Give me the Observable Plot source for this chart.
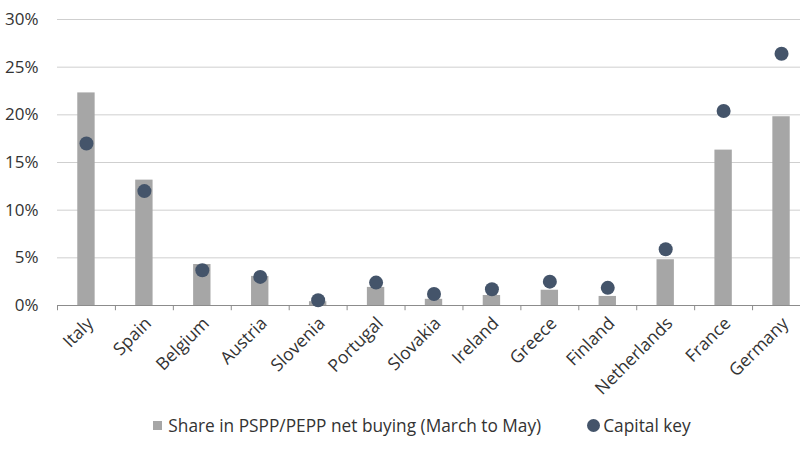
<!DOCTYPE html>
<html>
<head>
<meta charset="utf-8">
<script src="https://cdn.jsdelivr.net/npm/d3@7"></script>
<script src="https://cdn.jsdelivr.net/npm/@observablehq/plot@0.6"></script>
<style>
  html, body { margin: 0; padding: 0; background: #fff; }
  body { width: 800px; height: 450px; overflow: hidden; font-family: "Open Sans", sans-serif; }
  #chart svg { display: block; overflow: visible; }
  #legend { display: flex; justify-content: center; align-items: center; height: 45px; font-size: 17.3px; color: #333; margin-top: -2px; padding-left: 44px; }
  .item { display: flex; align-items: center; }
  .sq { width: 9px; height: 9px; background: #a6a6a6; margin-right: 6px; }
  .dt { width: 13px; height: 13px; border-radius: 50%; background: #44546a; margin-right: 3px; }
</style>
</head>
<body>
<div id="chart"></div>
<div id="legend">
  <div class="item" style="margin-right:46px"><span class="sq"></span><span>Share in PSPP/PEPP net buying (March to May)</span></div>
  <div class="item"><span class="dt"></span><span>Capital key</span></div>
</div>
<script>
const countries = ["Italy","Spain","Belgium","Austria","Slovenia","Portugal","Slovakia","Ireland","Greece","Finland","Netherlands","France","Germany"];
const netBuying = [22.3, 13.15, 4.3, 3.05, 0.4, 1.9, 0.65, 1.05, 1.6, 0.95, 4.8, 16.3, 19.8];
const capitalKey = [17.0, 12.0, 3.7, 3.0, 0.55, 2.4, 1.2, 1.7, 2.5, 1.85, 5.9, 20.4, 26.4];
const yTicks = [0, 5, 10, 15, 20, 25, 30];

const data = countries.map((c, i) => ({country: c, bar: netBuying[i], key: capitalKey[i]}));

const x0 = 57, x1 = 810;
const step = (x1 - x0) / countries.length;

const chart = Plot.plot({
  width: 800,
  height: 405,
  marginTop: 19,
  marginBottom: 100,
  marginLeft: 57,
  marginRight: 0,
  style: {fontFamily: "'Open Sans', sans-serif", fontSize: "17px", color: "#333", background: "transparent"},
  x: {domain: countries, range: [x0, x1], paddingInner: 0.7, paddingOuter: 0.35, round: false, label: null},
  y: {domain: [0, 30], label: null},
  marks: [
    Plot.ruleY(yTicks.filter(d => d > 0), {stroke: "#cfcfcf", strokeWidth: 1}),
    Plot.barY(data, {x: "country", y: "bar", fill: "#a6a6a6"}),
    Plot.ruleY([0], {stroke: "#8c8c8c", strokeWidth: 1}),
    Plot.ruleX(countries, {x: d => d, dx: -step / 2, y1: 0, y2: -0.55, stroke: "#8c8c8c", strokeWidth: 1}),
    Plot.dot(data, {x: "country", y: "key", r: 7, fill: "#44546a", stroke: "none"}),
    Plot.axisY({ticks: yTicks, tickSize: 0, tickPadding: 19, tickFormat: d => d + "%", fontSize: 17, fill: "#333"}),
    Plot.axisX({tickSize: 0, tickRotate: -45, tickPadding: 15, fontSize: 17.5, fill: "#333", dx: 4})
  ]
});
document.getElementById("chart").appendChild(chart);
</script>
</body>
</html>
